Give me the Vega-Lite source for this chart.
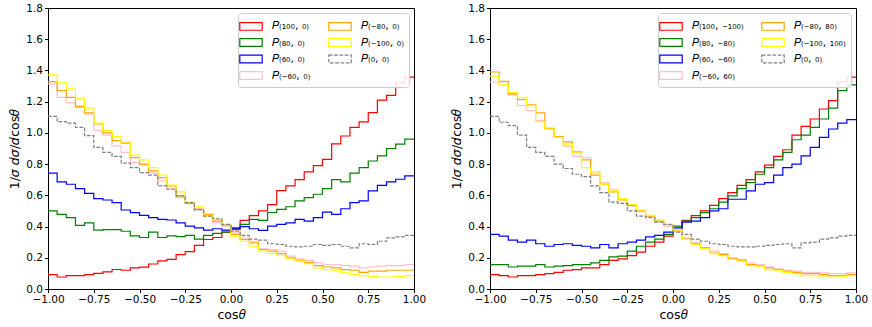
{
  "$schema": "https://vega.github.io/schema/vega-lite/v6.json",
  "padding": {"left": 8, "top": 2, "right": 5, "bottom": 5},
  "config": {
    "font": "DejaVu Sans",
    "view": {"stroke": "#000000", "strokeWidth": 1},
    "axis": {"grid": false, "domainColor": "#000000", "tickColor": "#000000", "labelColor": "#000000", "titleColor": "#000000", "labelFontSize": 10.5, "titleFontSize": 12.5, "titleFontWeight": "normal", "tickSize": 3.5, "labelPadding": 2, "labelFlush": false, "labelOverlap": false},
    "legend": {"orient": "top-right", "offset": 5, "columns": 2, "title": null, "fillColor": "rgba(255,255,255,0.85)", "strokeColor": "#cccccc", "cornerRadius": 3, "padding": 5, "labelFontSize": 11, "labelColor": "#000000", "symbolType": "M-1.6,-0.55H1.6V0.55H-1.6Z", "symbolSize": 196, "symbolStrokeWidth": 1.2, "symbolFillColor": "transparent", "rowPadding": 1.5, "columnPadding": 15, "labelOffset": 13}
  },
  "datasets": {
    "L": [
      {"lo": -1, "hi": -0.95, "r": 0.092, "g": 0.50, "b": 0.742, "p": 1.314, "o": 1.329, "y": 1.372, "k": 1.106},
      {"lo": -0.95, "hi": -0.9, "r": 0.077, "g": 0.478, "b": 0.686, "p": 1.228, "o": 1.271, "y": 1.32, "k": 1.072},
      {"lo": -0.9, "hi": -0.85, "r": 0.086, "g": 0.457, "b": 0.671, "p": 1.192, "o": 1.228, "y": 1.286, "k": 1.063},
      {"lo": -0.85, "hi": -0.8, "r": 0.086, "g": 0.407, "b": 0.643, "p": 1.164, "o": 1.17, "y": 1.222, "k": 1.035},
      {"lo": -0.8, "hi": -0.75, "r": 0.092, "g": 0.424, "b": 0.613, "p": 1.121, "o": 1.128, "y": 1.158, "k": 0.982},
      {"lo": -0.75, "hi": -0.7, "r": 0.10, "g": 0.377, "b": 0.579, "p": 1.014, "o": 1.057, "y": 1.063, "k": 0.907},
      {"lo": -0.7, "hi": -0.65, "r": 0.11, "g": 0.38, "b": 0.57, "p": 0.986, "o": 1.0, "y": 1.014, "k": 0.875},
      {"lo": -0.65, "hi": -0.6, "r": 0.125, "g": 0.38, "b": 0.553, "p": 0.917, "o": 0.95, "y": 0.977, "k": 0.849},
      {"lo": -0.6, "hi": -0.55, "r": 0.12, "g": 0.37, "b": 0.506, "p": 0.875, "o": 0.935, "y": 0.943, "k": 0.806},
      {"lo": -0.55, "hi": -0.5, "r": 0.135, "g": 0.34, "b": 0.489, "p": 0.81, "o": 0.842, "y": 0.857, "k": 0.778},
      {"lo": -0.5, "hi": -0.45, "r": 0.14, "g": 0.33, "b": 0.472, "p": 0.793, "o": 0.80, "y": 0.827, "k": 0.746},
      {"lo": -0.45, "hi": -0.4, "r": 0.16, "g": 0.364, "b": 0.457, "p": 0.742, "o": 0.757, "y": 0.778, "k": 0.729},
      {"lo": -0.4, "hi": -0.35, "r": 0.18, "g": 0.33, "b": 0.446, "p": 0.692, "o": 0.714, "y": 0.729, "k": 0.66},
      {"lo": -0.35, "hi": -0.3, "r": 0.19, "g": 0.34, "b": 0.442, "p": 0.643, "o": 0.66, "y": 0.665, "k": 0.639},
      {"lo": -0.3, "hi": -0.25, "r": 0.22, "g": 0.335, "b": 0.424, "p": 0.585, "o": 0.596, "y": 0.622, "k": 0.596},
      {"lo": -0.25, "hi": -0.2, "r": 0.24, "g": 0.343, "b": 0.403, "p": 0.549, "o": 0.549, "y": 0.557, "k": 0.553},
      {"lo": -0.2, "hi": -0.15, "r": 0.28, "g": 0.32, "b": 0.392, "p": 0.514, "o": 0.51, "y": 0.527, "k": 0.506},
      {"lo": -0.15, "hi": -0.1, "r": 0.317, "g": 0.343, "b": 0.377, "p": 0.467, "o": 0.478, "y": 0.467, "k": 0.467},
      {"lo": -0.1, "hi": -0.05, "r": 0.33, "g": 0.356, "b": 0.386, "p": 0.424, "o": 0.435, "y": 0.446, "k": 0.45},
      {"lo": -0.05, "hi": 0, "r": 0.364, "g": 0.364, "b": 0.377, "p": 0.403, "o": 0.407, "y": 0.41, "k": 0.414},
      {"lo": 0, "hi": 0.05, "r": 0.38, "g": 0.39, "b": 0.39, "p": 0.36, "o": 0.35, "y": 0.339, "k": 0.37},
      {"lo": 0.05, "hi": 0.1, "r": 0.44, "g": 0.414, "b": 0.399, "p": 0.328, "o": 0.317, "y": 0.306, "k": 0.343},
      {"lo": 0.1, "hi": 0.15, "r": 0.47, "g": 0.446, "b": 0.386, "p": 0.306, "o": 0.296, "y": 0.274, "k": 0.32},
      {"lo": 0.15, "hi": 0.2, "r": 0.50, "g": 0.44, "b": 0.375, "p": 0.257, "o": 0.253, "y": 0.242, "k": 0.313},
      {"lo": 0.2, "hi": 0.25, "r": 0.54, "g": 0.49, "b": 0.403, "p": 0.253, "o": 0.242, "y": 0.227, "k": 0.29},
      {"lo": 0.25, "hi": 0.3, "r": 0.63, "g": 0.51, "b": 0.414, "p": 0.242, "o": 0.227, "y": 0.214, "k": 0.285},
      {"lo": 0.3, "hi": 0.35, "r": 0.66, "g": 0.527, "b": 0.424, "p": 0.21, "o": 0.2, "y": 0.193, "k": 0.274},
      {"lo": 0.35, "hi": 0.4, "r": 0.70, "g": 0.564, "b": 0.446, "p": 0.193, "o": 0.184, "y": 0.178, "k": 0.27},
      {"lo": 0.4, "hi": 0.45, "r": 0.75, "g": 0.585, "b": 0.435, "p": 0.184, "o": 0.171, "y": 0.163, "k": 0.274},
      {"lo": 0.45, "hi": 0.5, "r": 0.79, "g": 0.607, "b": 0.457, "p": 0.167, "o": 0.15, "y": 0.135, "k": 0.285},
      {"lo": 0.5, "hi": 0.55, "r": 0.83, "g": 0.643, "b": 0.493, "p": 0.156, "o": 0.141, "y": 0.124, "k": 0.279},
      {"lo": 0.55, "hi": 0.6, "r": 0.93, "g": 0.70, "b": 0.478, "p": 0.156, "o": 0.135, "y": 0.12, "k": 0.285},
      {"lo": 0.6, "hi": 0.65, "r": 0.98, "g": 0.686, "b": 0.514, "p": 0.15, "o": 0.124, "y": 0.103, "k": 0.274},
      {"lo": 0.65, "hi": 0.7, "r": 1.035, "g": 0.742, "b": 0.553, "p": 0.146, "o": 0.12, "y": 0.092, "k": 0.264},
      {"lo": 0.7, "hi": 0.75, "r": 1.07, "g": 0.778, "b": 0.564, "p": 0.135, "o": 0.107, "y": 0.086, "k": 0.29},
      {"lo": 0.75, "hi": 0.8, "r": 1.13, "g": 0.82, "b": 0.628, "p": 0.141, "o": 0.114, "y": 0.081, "k": 0.285},
      {"lo": 0.8, "hi": 0.85, "r": 1.21, "g": 0.853, "b": 0.664, "p": 0.146, "o": 0.114, "y": 0.077, "k": 0.306},
      {"lo": 0.85, "hi": 0.9, "r": 1.24, "g": 0.90, "b": 0.686, "p": 0.15, "o": 0.12, "y": 0.077, "k": 0.328},
      {"lo": 0.9, "hi": 0.95, "r": 1.32, "g": 0.928, "b": 0.703, "p": 0.15, "o": 0.12, "y": 0.081, "k": 0.334},
      {"lo": 0.95, "hi": 1, "r": 1.357, "g": 0.96, "b": 0.725, "p": 0.156, "o": 0.12, "y": 0.086, "k": 0.343}
    ],
    "R": [
      {"lo": -1, "hi": -0.95, "r": 0.092, "g": 0.156, "b": 0.35, "p": 1.325, "o": 1.39, "y": 1.363, "k": 1.106},
      {"lo": -0.95, "hi": -0.9, "r": 0.086, "g": 0.156, "b": 0.339, "p": 1.308, "o": 1.33, "y": 1.308, "k": 1.068},
      {"lo": -0.9, "hi": -0.85, "r": 0.077, "g": 0.141, "b": 0.313, "p": 1.243, "o": 1.25, "y": 1.26, "k": 1.046},
      {"lo": -0.85, "hi": -0.8, "r": 0.086, "g": 0.146, "b": 0.30, "p": 1.175, "o": 1.213, "y": 1.228, "k": 0.986},
      {"lo": -0.8, "hi": -0.75, "r": 0.086, "g": 0.146, "b": 0.313, "p": 1.143, "o": 1.179, "y": 1.175, "k": 0.907},
      {"lo": -0.75, "hi": -0.7, "r": 0.092, "g": 0.156, "b": 0.29, "p": 1.078, "o": 1.128, "y": 1.072, "k": 0.875},
      {"lo": -0.7, "hi": -0.65, "r": 0.099, "g": 0.141, "b": 0.274, "p": 1.025, "o": 1.029, "y": 1.025, "k": 0.849},
      {"lo": -0.65, "hi": -0.6, "r": 0.107, "g": 0.146, "b": 0.285, "p": 0.971, "o": 0.977, "y": 0.971, "k": 0.80},
      {"lo": -0.6, "hi": -0.55, "r": 0.12, "g": 0.15, "b": 0.29, "p": 0.913, "o": 0.943, "y": 0.928, "k": 0.772},
      {"lo": -0.55, "hi": -0.5, "r": 0.124, "g": 0.156, "b": 0.279, "p": 0.849, "o": 0.879, "y": 0.87, "k": 0.735},
      {"lo": -0.5, "hi": -0.45, "r": 0.135, "g": 0.156, "b": 0.274, "p": 0.842, "o": 0.827, "y": 0.778, "k": 0.72},
      {"lo": -0.45, "hi": -0.4, "r": 0.135, "g": 0.167, "b": 0.264, "p": 0.75, "o": 0.729, "y": 0.742, "k": 0.66},
      {"lo": -0.4, "hi": -0.35, "r": 0.156, "g": 0.184, "b": 0.285, "p": 0.682, "o": 0.671, "y": 0.671, "k": 0.617},
      {"lo": -0.35, "hi": -0.3, "r": 0.184, "g": 0.206, "b": 0.264, "p": 0.639, "o": 0.622, "y": 0.628, "k": 0.557},
      {"lo": -0.3, "hi": -0.25, "r": 0.193, "g": 0.21, "b": 0.29, "p": 0.579, "o": 0.57, "y": 0.579, "k": 0.549},
      {"lo": -0.25, "hi": -0.2, "r": 0.214, "g": 0.242, "b": 0.30, "p": 0.532, "o": 0.536, "y": 0.542, "k": 0.50},
      {"lo": -0.2, "hi": -0.15, "r": 0.236, "g": 0.274, "b": 0.313, "p": 0.50, "o": 0.50, "y": 0.506, "k": 0.467},
      {"lo": -0.15, "hi": -0.1, "r": 0.274, "g": 0.30, "b": 0.334, "p": 0.467, "o": 0.467, "y": 0.472, "k": 0.457},
      {"lo": -0.1, "hi": -0.05, "r": 0.30, "g": 0.32, "b": 0.343, "p": 0.442, "o": 0.435, "y": 0.442, "k": 0.429},
      {"lo": -0.05, "hi": 0, "r": 0.339, "g": 0.35, "b": 0.364, "p": 0.403, "o": 0.407, "y": 0.407, "k": 0.414},
      {"lo": 0, "hi": 0.05, "r": 0.38, "g": 0.403, "b": 0.392, "p": 0.38, "o": 0.371, "y": 0.371, "k": 0.364},
      {"lo": 0.05, "hi": 0.1, "r": 0.44, "g": 0.435, "b": 0.429, "p": 0.328, "o": 0.32, "y": 0.317, "k": 0.35},
      {"lo": 0.1, "hi": 0.15, "r": 0.47, "g": 0.457, "b": 0.435, "p": 0.296, "o": 0.29, "y": 0.285, "k": 0.32},
      {"lo": 0.15, "hi": 0.2, "r": 0.50, "g": 0.489, "b": 0.457, "p": 0.264, "o": 0.264, "y": 0.257, "k": 0.306},
      {"lo": 0.2, "hi": 0.25, "r": 0.536, "g": 0.514, "b": 0.50, "p": 0.242, "o": 0.23, "y": 0.227, "k": 0.29},
      {"lo": 0.25, "hi": 0.3, "r": 0.579, "g": 0.557, "b": 0.514, "p": 0.227, "o": 0.22, "y": 0.214, "k": 0.285},
      {"lo": 0.3, "hi": 0.35, "r": 0.617, "g": 0.596, "b": 0.575, "p": 0.20, "o": 0.193, "y": 0.189, "k": 0.274},
      {"lo": 0.35, "hi": 0.4, "r": 0.664, "g": 0.643, "b": 0.575, "p": 0.189, "o": 0.184, "y": 0.178, "k": 0.27},
      {"lo": 0.4, "hi": 0.45, "r": 0.70, "g": 0.682, "b": 0.628, "p": 0.167, "o": 0.156, "y": 0.15, "k": 0.27},
      {"lo": 0.45, "hi": 0.5, "r": 0.75, "g": 0.735, "b": 0.671, "p": 0.156, "o": 0.15, "y": 0.146, "k": 0.274},
      {"lo": 0.5, "hi": 0.55, "r": 0.793, "g": 0.778, "b": 0.682, "p": 0.141, "o": 0.135, "y": 0.124, "k": 0.279},
      {"lo": 0.55, "hi": 0.6, "r": 0.849, "g": 0.827, "b": 0.729, "p": 0.129, "o": 0.124, "y": 0.12, "k": 0.285},
      {"lo": 0.6, "hi": 0.65, "r": 0.892, "g": 0.875, "b": 0.778, "p": 0.12, "o": 0.114, "y": 0.107, "k": 0.29},
      {"lo": 0.65, "hi": 0.7, "r": 0.986, "g": 0.956, "b": 0.80, "p": 0.114, "o": 0.107, "y": 0.099, "k": 0.264},
      {"lo": 0.7, "hi": 0.75, "r": 1.042, "g": 0.986, "b": 0.853, "p": 0.107, "o": 0.099, "y": 0.086, "k": 0.296},
      {"lo": 0.75, "hi": 0.8, "r": 1.089, "g": 1.035, "b": 0.907, "p": 0.107, "o": 0.099, "y": 0.086, "k": 0.30},
      {"lo": 0.8, "hi": 0.85, "r": 1.153, "g": 1.089, "b": 0.971, "p": 0.103, "o": 0.092, "y": 0.077, "k": 0.32},
      {"lo": 0.85, "hi": 0.9, "r": 1.207, "g": 1.158, "b": 1.025, "p": 0.099, "o": 0.086, "y": 0.077, "k": 0.328},
      {"lo": 0.9, "hi": 0.95, "r": 1.325, "g": 1.271, "b": 1.063, "p": 0.099, "o": 0.086, "y": 0.081, "k": 0.339},
      {"lo": 0.95, "hi": 1, "r": 1.357, "g": 1.308, "b": 1.085, "p": 0.103, "o": 0.092, "y": 0.086, "k": 0.343}
    ]
  },
  "spacing": 23,
  "resolve": {"scale": {"color": "independent", "strokeDash": "independent"}, "legend": {"color": "independent", "strokeDash": "independent"}},
  "hconcat": [
    {
      "width": 366,
      "height": 281,
      "data": {"name": "L"},
      "transform": [
        {"fold": ["r", "g", "b", "p", "o", "y", "k"], "as": ["s", "v"]},
        {"fold": ["lo", "hi"], "as": ["edge", "x"]}
      ],
      "mark": {"type": "line", "strokeWidth": 1.2, "clip": true},
      "encoding": {
        "x": {"field": "x", "type": "quantitative", "scale": {"domain": [-1, 1], "nice": false, "zero": false}, "axis": {"title": "cos𝜃", "values": [-1, -0.75, -0.5, -0.25, 0, 0.25, 0.5, 0.75, 1], "format": ".2f", "titlePadding": 3}},
        "y": {"field": "v", "type": "quantitative", "scale": {"domain": [0, 1.8], "nice": false}, "axis": {"title": "1/𝜎 𝑑𝜎/𝑑cos𝜃", "values": [0, 0.2, 0.4, 0.6, 0.8, 1, 1.2, 1.4, 1.6, 1.8], "format": ".1f", "titlePadding": 4}},
        "color": {"field": "s", "type": "nominal", "scale": {"domain": ["r", "g", "b", "p", "o", "y", "k"], "range": ["#ff0000", "#008000", "#0000ff", "#ffc0cb", "#ffa500", "#ffff00", "#808080"]}, "legend": {"labelExpr": "({'r': '𝑃₍₁₀₀, ₀₎', 'g': '𝑃₍₈₀, ₀₎', 'b': '𝑃₍₆₀, ₀₎', 'p': '𝑃₍₋₆₀, ₀₎', 'o': '𝑃₍₋₈₀, ₀₎', 'y': '𝑃₍₋₁₀₀, ₀₎', 'k': '𝑃₍₀, ₀₎'})[datum.label]"}},
        "strokeDash": {"field": "s", "type": "nominal", "scale": {"domain": ["r", "g", "b", "p", "o", "y", "k"], "range": [[1, 0], [1, 0], [1, 0], [1, 0], [1, 0], [1, 0], [3.7, 1.6]]}, "legend": {"labelExpr": "({'r': '𝑃₍₁₀₀, ₀₎', 'g': '𝑃₍₈₀, ₀₎', 'b': '𝑃₍₆₀, ₀₎', 'p': '𝑃₍₋₆₀, ₀₎', 'o': '𝑃₍₋₈₀, ₀₎', 'y': '𝑃₍₋₁₀₀, ₀₎', 'k': '𝑃₍₀, ₀₎'})[datum.label]"}},
        "order": [{"field": "x", "type": "quantitative", "sort": "ascending"}, {"field": "edge", "type": "nominal", "sort": "ascending"}]
      }
    },
    {
      "width": 366,
      "height": 281,
      "data": {"name": "R"},
      "transform": [
        {"fold": ["r", "g", "b", "p", "o", "y", "k"], "as": ["s", "v"]},
        {"fold": ["lo", "hi"], "as": ["edge", "x"]}
      ],
      "mark": {"type": "line", "strokeWidth": 1.2, "clip": true},
      "encoding": {
        "x": {"field": "x", "type": "quantitative", "scale": {"domain": [-1, 1], "nice": false, "zero": false}, "axis": {"title": "cos𝜃", "values": [-1, -0.75, -0.5, -0.25, 0, 0.25, 0.5, 0.75, 1], "format": ".2f", "titlePadding": 3}},
        "y": {"field": "v", "type": "quantitative", "scale": {"domain": [0, 1.8], "nice": false}, "axis": {"title": "1/𝜎 𝑑𝜎/𝑑cos𝜃", "values": [0, 0.2, 0.4, 0.6, 0.8, 1, 1.2, 1.4, 1.6, 1.8], "format": ".1f", "titlePadding": 4}},
        "color": {"field": "s", "type": "nominal", "scale": {"domain": ["r", "g", "b", "p", "o", "y", "k"], "range": ["#ff0000", "#008000", "#0000ff", "#ffc0cb", "#ffa500", "#ffff00", "#808080"]}, "legend": {"labelExpr": "({'r': '𝑃₍₁₀₀, ₋₁₀₀₎', 'g': '𝑃₍₈₀, ₋₈₀₎', 'b': '𝑃₍₆₀, ₋₆₀₎', 'p': '𝑃₍₋₆₀, ₆₀₎', 'o': '𝑃₍₋₈₀, ₈₀₎', 'y': '𝑃₍₋₁₀₀, ₁₀₀₎', 'k': '𝑃₍₀, ₀₎'})[datum.label]"}},
        "strokeDash": {"field": "s", "type": "nominal", "scale": {"domain": ["r", "g", "b", "p", "o", "y", "k"], "range": [[1, 0], [1, 0], [1, 0], [1, 0], [1, 0], [1, 0], [3.7, 1.6]]}, "legend": {"labelExpr": "({'r': '𝑃₍₁₀₀, ₋₁₀₀₎', 'g': '𝑃₍₈₀, ₋₈₀₎', 'b': '𝑃₍₆₀, ₋₆₀₎', 'p': '𝑃₍₋₆₀, ₆₀₎', 'o': '𝑃₍₋₈₀, ₈₀₎', 'y': '𝑃₍₋₁₀₀, ₁₀₀₎', 'k': '𝑃₍₀, ₀₎'})[datum.label]"}},
        "order": [{"field": "x", "type": "quantitative", "sort": "ascending"}, {"field": "edge", "type": "nominal", "sort": "ascending"}]
      }
    }
  ]
}
